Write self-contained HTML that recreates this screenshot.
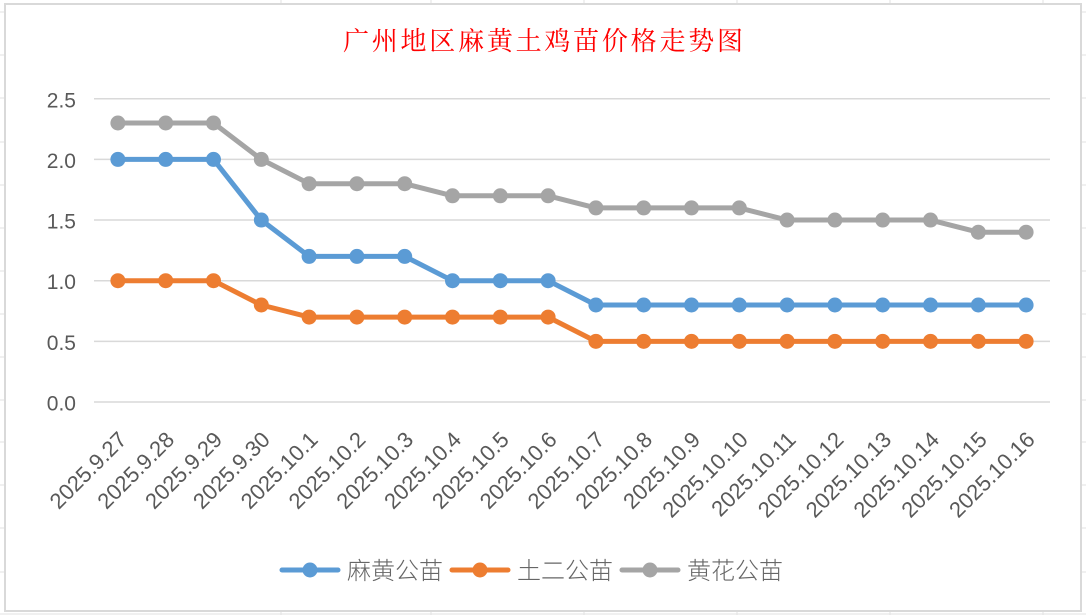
<!DOCTYPE html>
<html><head><meta charset="utf-8"><style>
html,body{margin:0;padding:0;background:#fff;}
svg{display:block;}
</style></head><body>
<svg width="1086" height="615" viewBox="0 0 1086 615" xmlns="http://www.w3.org/2000/svg">
<rect x="0" y="0" width="1086" height="615" fill="#fff"/>
<!-- spreadsheet grid fragments -->
<g stroke="#e2e2e2" stroke-width="1">
<line x1="0" y1="614" x2="1086" y2="614"/>
<line x1="0" y1="12" x2="4" y2="12"/><line x1="0" y1="55" x2="4" y2="55"/><line x1="0" y1="98" x2="4" y2="98"/>
<line x1="0" y1="142" x2="4" y2="142"/><line x1="0" y1="185" x2="4" y2="185"/><line x1="0" y1="228" x2="4" y2="228"/>
<line x1="0" y1="271" x2="4" y2="271"/><line x1="0" y1="314" x2="4" y2="314"/><line x1="0" y1="357" x2="4" y2="357"/>
<line x1="0" y1="400" x2="4" y2="400"/><line x1="0" y1="442" x2="4" y2="442"/><line x1="0" y1="485" x2="4" y2="485"/>
<line x1="0" y1="528" x2="4" y2="528"/><line x1="0" y1="572" x2="4" y2="572"/>
<line x1="1082" y1="12" x2="1086" y2="12"/><line x1="1082" y1="55" x2="1086" y2="55"/><line x1="1082" y1="98" x2="1086" y2="98"/>
<line x1="1082" y1="142" x2="1086" y2="142"/><line x1="1082" y1="185" x2="1086" y2="185"/><line x1="1082" y1="228" x2="1086" y2="228"/>
<line x1="1082" y1="271" x2="1086" y2="271"/><line x1="1082" y1="314" x2="1086" y2="314"/><line x1="1082" y1="357" x2="1086" y2="357"/>
<line x1="1082" y1="400" x2="1086" y2="400"/><line x1="1082" y1="442" x2="1086" y2="442"/><line x1="1082" y1="485" x2="1086" y2="485"/>
<line x1="1082" y1="528" x2="1086" y2="528"/><line x1="1082" y1="572" x2="1086" y2="572"/>
<line x1="281" y1="0" x2="281" y2="3"/><line x1="431" y1="0" x2="431" y2="3"/><line x1="584" y1="0" x2="584" y2="3"/>
<line x1="737" y1="0" x2="737" y2="3"/><line x1="890" y1="0" x2="890" y2="3"/><line x1="1043" y1="0" x2="1043" y2="3"/>
<line x1="281" y1="612" x2="281" y2="615"/><line x1="431" y1="612" x2="431" y2="615"/><line x1="584" y1="612" x2="584" y2="615"/>
<line x1="737" y1="612" x2="737" y2="615"/><line x1="890" y1="612" x2="890" y2="615"/><line x1="1043" y1="612" x2="1043" y2="615"/>
</g>
<!-- chart border -->
<rect x="5" y="4" width="1076" height="607" fill="#fff" stroke="#d9d9d9" stroke-width="2"/>

<!-- title -->
<text x="343" y="50" font-family="'Noto Serif CJK SC','Liberation Serif',serif" font-size="26" fill="#ff0000" textLength="400" lengthAdjust="spacing">广州地区麻黄土鸡苗价格走势图</text>

<!-- gridlines -->
<g stroke="#d9d9d9" stroke-width="1.5">
<line x1="94" y1="98.75" x2="1050" y2="98.75"/>
<line x1="94" y1="159.4" x2="1050" y2="159.4"/>
<line x1="94" y1="220.05" x2="1050" y2="220.05"/>
<line x1="94" y1="280.7" x2="1050" y2="280.7"/>
<line x1="94" y1="341.35" x2="1050" y2="341.35"/>
<line x1="94" y1="402" x2="1050" y2="402"/>
</g>

<!-- y labels -->
<g font-family="'Liberation Sans',sans-serif" font-size="21" fill="#595959" text-anchor="end">
<text x="76" y="107.5">2.5</text>
<text x="76" y="168">2.0</text>
<text x="76" y="228.5">1.5</text>
<text x="76" y="289">1.0</text>
<text x="76" y="350">0.5</text>
<text x="76" y="410.5">0.0</text>
</g>

<!-- x labels -->
<g font-family="'Liberation Sans',sans-serif" font-size="22" fill="#595959" text-anchor="end">
<text transform="translate(128,441) rotate(-45)">2025.9.27</text>
<text transform="translate(175.7,441) rotate(-45)">2025.9.28</text>
<text transform="translate(223.5,441) rotate(-45)">2025.9.29</text>
<text transform="translate(271.3,441) rotate(-45)">2025.9.30</text>
<text transform="translate(319.1,441) rotate(-45)">2025.10.1</text>
<text transform="translate(366.9,441) rotate(-45)">2025.10.2</text>
<text transform="translate(414.7,441) rotate(-45)">2025.10.3</text>
<text transform="translate(462.5,441) rotate(-45)">2025.10.4</text>
<text transform="translate(510.3,441) rotate(-45)">2025.10.5</text>
<text transform="translate(558.1,441) rotate(-45)">2025.10.6</text>
<text transform="translate(605.9,441) rotate(-45)">2025.10.7</text>
<text transform="translate(653.7,441) rotate(-45)">2025.10.8</text>
<text transform="translate(701.5,441) rotate(-45)">2025.10.9</text>
<text transform="translate(749.3,441) rotate(-45)">2025.10.10</text>
<text transform="translate(797.1,441) rotate(-45)">2025.10.11</text>
<text transform="translate(844.9,441) rotate(-45)">2025.10.12</text>
<text transform="translate(892.7,441) rotate(-45)">2025.10.13</text>
<text transform="translate(940.5,441) rotate(-45)">2025.10.14</text>
<text transform="translate(988.3,441) rotate(-45)">2025.10.15</text>
<text transform="translate(1036.1,441) rotate(-45)">2025.10.16</text>
</g>

<!-- series: 麻黄公苗 (blue) -->
<g fill="#5B9BD5">
<polyline fill="none" stroke="#5B9BD5" stroke-width="5" stroke-linejoin="round" stroke-linecap="round"
points="117.9,159.4 165.7,159.4 213.5,159.4 261.3,220.05 309.1,256.4 356.9,256.4 404.7,256.4 452.5,280.7 500.3,280.7 548.1,280.7 595.9,305 643.7,305 691.5,305 739.3,305 787.1,305 834.9,305 882.7,305 930.5,305 978.3,305 1026.1,305"/>
<circle cx="117.9" cy="159.4" r="7.5"/><circle cx="165.7" cy="159.4" r="7.5"/><circle cx="213.5" cy="159.4" r="7.5"/>
<circle cx="261.3" cy="220.05" r="7.5"/><circle cx="309.1" cy="256.4" r="7.5"/><circle cx="356.9" cy="256.4" r="7.5"/>
<circle cx="404.7" cy="256.4" r="7.5"/><circle cx="452.5" cy="280.7" r="7.5"/><circle cx="500.3" cy="280.7" r="7.5"/>
<circle cx="548.1" cy="280.7" r="7.5"/><circle cx="595.9" cy="305" r="7.5"/><circle cx="643.7" cy="305" r="7.5"/>
<circle cx="691.5" cy="305" r="7.5"/><circle cx="739.3" cy="305" r="7.5"/><circle cx="787.1" cy="305" r="7.5"/>
<circle cx="834.9" cy="305" r="7.5"/><circle cx="882.7" cy="305" r="7.5"/><circle cx="930.5" cy="305" r="7.5"/>
<circle cx="978.3" cy="305" r="7.5"/><circle cx="1026.1" cy="305" r="7.5"/>
</g>

<!-- series: 土二公苗 (orange) -->
<g fill="#ED7D31">
<polyline fill="none" stroke="#ED7D31" stroke-width="5" stroke-linejoin="round" stroke-linecap="round"
points="117.9,280.7 165.7,280.7 213.5,280.7 261.3,305 309.1,317.1 356.9,317.1 404.7,317.1 452.5,317.1 500.3,317.1 548.1,317.1 595.9,341.35 643.7,341.35 691.5,341.35 739.3,341.35 787.1,341.35 834.9,341.35 882.7,341.35 930.5,341.35 978.3,341.35 1026.1,341.35"/>
<circle cx="117.9" cy="280.7" r="7.5"/><circle cx="165.7" cy="280.7" r="7.5"/><circle cx="213.5" cy="280.7" r="7.5"/>
<circle cx="261.3" cy="305" r="7.5"/><circle cx="309.1" cy="317.1" r="7.5"/><circle cx="356.9" cy="317.1" r="7.5"/>
<circle cx="404.7" cy="317.1" r="7.5"/><circle cx="452.5" cy="317.1" r="7.5"/><circle cx="500.3" cy="317.1" r="7.5"/>
<circle cx="548.1" cy="317.1" r="7.5"/><circle cx="595.9" cy="341.35" r="7.5"/><circle cx="643.7" cy="341.35" r="7.5"/>
<circle cx="691.5" cy="341.35" r="7.5"/><circle cx="739.3" cy="341.35" r="7.5"/><circle cx="787.1" cy="341.35" r="7.5"/>
<circle cx="834.9" cy="341.35" r="7.5"/><circle cx="882.7" cy="341.35" r="7.5"/><circle cx="930.5" cy="341.35" r="7.5"/>
<circle cx="978.3" cy="341.35" r="7.5"/><circle cx="1026.1" cy="341.35" r="7.5"/>
</g>

<!-- series: 黄花公苗 (gray) -->
<g fill="#A5A5A5">
<polyline fill="none" stroke="#A5A5A5" stroke-width="5" stroke-linejoin="round" stroke-linecap="round"
points="117.9,123 165.7,123 213.5,123 261.3,159.4 309.1,183.7 356.9,183.7 404.7,183.7 452.5,195.8 500.3,195.8 548.1,195.8 595.9,207.9 643.7,207.9 691.5,207.9 739.3,207.9 787.1,220.05 834.9,220.05 882.7,220.05 930.5,220.05 978.3,232.2 1026.1,232.2"/>
<circle cx="117.9" cy="123" r="7.5"/><circle cx="165.7" cy="123" r="7.5"/><circle cx="213.5" cy="123" r="7.5"/>
<circle cx="261.3" cy="159.4" r="7.5"/><circle cx="309.1" cy="183.7" r="7.5"/><circle cx="356.9" cy="183.7" r="7.5"/>
<circle cx="404.7" cy="183.7" r="7.5"/><circle cx="452.5" cy="195.8" r="7.5"/><circle cx="500.3" cy="195.8" r="7.5"/>
<circle cx="548.1" cy="195.8" r="7.5"/><circle cx="595.9" cy="207.9" r="7.5"/><circle cx="643.7" cy="207.9" r="7.5"/>
<circle cx="691.5" cy="207.9" r="7.5"/><circle cx="739.3" cy="207.9" r="7.5"/><circle cx="787.1" cy="220.05" r="7.5"/>
<circle cx="834.9" cy="220.05" r="7.5"/><circle cx="882.7" cy="220.05" r="7.5"/><circle cx="930.5" cy="220.05" r="7.5"/>
<circle cx="978.3" cy="232.2" r="7.5"/><circle cx="1026.1" cy="232.2" r="7.5"/>
</g>

<!-- legend -->
<g stroke-width="5" stroke-linecap="round">
<line x1="282" y1="570" x2="338" y2="570" stroke="#5B9BD5"/>
<line x1="452" y1="570" x2="508" y2="570" stroke="#ED7D31"/>
<line x1="622" y1="570" x2="678" y2="570" stroke="#A5A5A5"/>
</g>
<circle cx="310" cy="570" r="7.5" fill="#5B9BD5"/>
<circle cx="480" cy="570" r="7.5" fill="#ED7D31"/>
<circle cx="650" cy="570" r="7.5" fill="#A5A5A5"/>
<g font-family="'Liberation Sans','Noto Sans CJK SC',sans-serif" font-size="24" font-weight="300" fill="#666666">
<text x="347" y="579">麻黄公苗</text>
<text x="517" y="579">土二公苗</text>
<text x="687" y="579">黄花公苗</text>
</g>
</svg>
</body></html>
